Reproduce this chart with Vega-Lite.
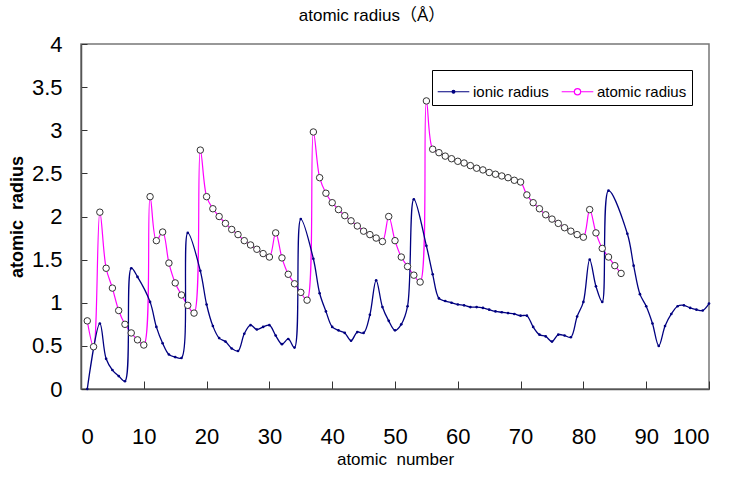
{
  "$schema": "https://vega.github.io/schema/vega-lite/v6.json",
  "width": 628,
  "height": 345,
  "autosize": {"type": "none"},
  "padding": {"left": 81, "top": 44, "right": 34, "bottom": 88},
  "background": "white",
  "title": {
    "text": "atomic radius（Å）",
    "fontSize": 17,
    "fontWeight": "normal",
    "font": "Liberation Sans, Noto Sans CJK JP, sans-serif",
    "color": "black",
    "offset": 8,
    "frame": "group",
    "anchor": "middle",
    "dx": -23
  },
  "config": {
    "view": {"stroke": "#777777", "strokeWidth": 1.5},
    "axis": {"grid": false, "domainColor": "#555555", "domainWidth": 1.5, "tickColor": "#333333", "labelColor": "black", "titleColor": "black"}
  },
  "datasets": {
    "ionic": [
      {"Z": 1, "r": 0.0}, {"Z": 3, "r": 0.76}, {"Z": 4, "r": 0.35}, {"Z": 5, "r": 0.22},
      {"Z": 6, "r": 0.15}, {"Z": 7, "r": 0.09}, {"Z": 8, "r": 1.40}, {"Z": 9, "r": 1.30},
      {"Z": 11, "r": 1.01}, {"Z": 12, "r": 0.72}, {"Z": 13, "r": 0.53}, {"Z": 14, "r": 0.40},
      {"Z": 15, "r": 0.37}, {"Z": 16, "r": 0.36}, {"Z": 17, "r": 1.81}, {"Z": 19, "r": 1.37},
      {"Z": 20, "r": 0.98}, {"Z": 21, "r": 0.73}, {"Z": 22, "r": 0.59}, {"Z": 23, "r": 0.55},
      {"Z": 24, "r": 0.47}, {"Z": 25, "r": 0.44}, {"Z": 26, "r": 0.64}, {"Z": 27, "r": 0.74},
      {"Z": 28, "r": 0.69}, {"Z": 29, "r": 0.72}, {"Z": 30, "r": 0.74}, {"Z": 31, "r": 0.62},
      {"Z": 32, "r": 0.52}, {"Z": 33, "r": 0.58}, {"Z": 34, "r": 0.48}, {"Z": 35, "r": 1.97},
      {"Z": 37, "r": 1.51}, {"Z": 38, "r": 1.11}, {"Z": 39, "r": 0.90}, {"Z": 40, "r": 0.72},
      {"Z": 41, "r": 0.68}, {"Z": 42, "r": 0.65}, {"Z": 43, "r": 0.56}, {"Z": 44, "r": 0.66},
      {"Z": 45, "r": 0.65}, {"Z": 46, "r": 0.86}, {"Z": 47, "r": 1.26}, {"Z": 48, "r": 0.95},
      {"Z": 49, "r": 0.79}, {"Z": 50, "r": 0.68}, {"Z": 51, "r": 0.75}, {"Z": 52, "r": 0.96},
      {"Z": 53, "r": 2.20}, {"Z": 55, "r": 1.66}, {"Z": 56, "r": 1.33}, {"Z": 57, "r": 1.05},
      {"Z": 58, "r": 1.02}, {"Z": 59, "r": 1.00}, {"Z": 60, "r": 0.98}, {"Z": 61, "r": 0.97},
      {"Z": 62, "r": 0.95}, {"Z": 63, "r": 0.95}, {"Z": 64, "r": 0.94}, {"Z": 65, "r": 0.92},
      {"Z": 66, "r": 0.90}, {"Z": 67, "r": 0.89}, {"Z": 68, "r": 0.88}, {"Z": 69, "r": 0.87},
      {"Z": 70, "r": 0.85}, {"Z": 71, "r": 0.85}, {"Z": 72, "r": 0.72}, {"Z": 73, "r": 0.63},
      {"Z": 74, "r": 0.61}, {"Z": 75, "r": 0.55}, {"Z": 76, "r": 0.63}, {"Z": 77, "r": 0.62},
      {"Z": 78, "r": 0.60}, {"Z": 79, "r": 0.84}, {"Z": 80, "r": 1.01}, {"Z": 81, "r": 1.50},
      {"Z": 82, "r": 1.19}, {"Z": 83, "r": 1.01}, {"Z": 84, "r": 2.30}, {"Z": 87, "r": 1.80},
      {"Z": 88, "r": 1.43}, {"Z": 89, "r": 1.10}, {"Z": 90, "r": 0.96}, {"Z": 91, "r": 0.76},
      {"Z": 92, "r": 0.50}, {"Z": 93, "r": 0.73}, {"Z": 94, "r": 0.87}, {"Z": 95, "r": 0.96},
      {"Z": 96, "r": 0.97}, {"Z": 97, "r": 0.94}, {"Z": 98, "r": 0.92}, {"Z": 99, "r": 0.91},
      {"Z": 100, "r": 0.99}
    ],
    "atomic": [
      {"Z": 1, "r": 0.79}, {"Z": 2, "r": 0.49}, {"Z": 3, "r": 2.05}, {"Z": 4, "r": 1.40},
      {"Z": 5, "r": 1.17}, {"Z": 6, "r": 0.91}, {"Z": 7, "r": 0.75}, {"Z": 8, "r": 0.65},
      {"Z": 9, "r": 0.57}, {"Z": 10, "r": 0.51}, {"Z": 11, "r": 2.23}, {"Z": 12, "r": 1.72},
      {"Z": 13, "r": 1.82}, {"Z": 14, "r": 1.46}, {"Z": 15, "r": 1.23}, {"Z": 16, "r": 1.09},
      {"Z": 17, "r": 0.97}, {"Z": 18, "r": 0.88}, {"Z": 19, "r": 2.77}, {"Z": 20, "r": 2.23},
      {"Z": 21, "r": 2.09}, {"Z": 22, "r": 2.00}, {"Z": 23, "r": 1.92}, {"Z": 24, "r": 1.85},
      {"Z": 25, "r": 1.79}, {"Z": 26, "r": 1.72}, {"Z": 27, "r": 1.67}, {"Z": 28, "r": 1.62},
      {"Z": 29, "r": 1.57}, {"Z": 30, "r": 1.53}, {"Z": 31, "r": 1.81}, {"Z": 32, "r": 1.52},
      {"Z": 33, "r": 1.33}, {"Z": 34, "r": 1.22}, {"Z": 35, "r": 1.12}, {"Z": 36, "r": 1.03},
      {"Z": 37, "r": 2.98}, {"Z": 38, "r": 2.45}, {"Z": 39, "r": 2.27}, {"Z": 40, "r": 2.16},
      {"Z": 41, "r": 2.08}, {"Z": 42, "r": 2.01}, {"Z": 43, "r": 1.95}, {"Z": 44, "r": 1.89},
      {"Z": 45, "r": 1.83}, {"Z": 46, "r": 1.79}, {"Z": 47, "r": 1.75}, {"Z": 48, "r": 1.71},
      {"Z": 49, "r": 2.00}, {"Z": 50, "r": 1.72}, {"Z": 51, "r": 1.53}, {"Z": 52, "r": 1.42},
      {"Z": 53, "r": 1.32}, {"Z": 54, "r": 1.24}, {"Z": 55, "r": 3.34}, {"Z": 56, "r": 2.78},
      {"Z": 57, "r": 2.74}, {"Z": 58, "r": 2.70}, {"Z": 59, "r": 2.67}, {"Z": 60, "r": 2.64},
      {"Z": 61, "r": 2.62}, {"Z": 62, "r": 2.59}, {"Z": 63, "r": 2.56}, {"Z": 64, "r": 2.54},
      {"Z": 65, "r": 2.51}, {"Z": 66, "r": 2.49}, {"Z": 67, "r": 2.47}, {"Z": 68, "r": 2.45},
      {"Z": 69, "r": 2.42}, {"Z": 70, "r": 2.40}, {"Z": 71, "r": 2.25}, {"Z": 72, "r": 2.16},
      {"Z": 73, "r": 2.09}, {"Z": 74, "r": 2.02}, {"Z": 75, "r": 1.97}, {"Z": 76, "r": 1.92},
      {"Z": 77, "r": 1.87}, {"Z": 78, "r": 1.83}, {"Z": 79, "r": 1.79}, {"Z": 80, "r": 1.76},
      {"Z": 81, "r": 2.08}, {"Z": 82, "r": 1.81}, {"Z": 83, "r": 1.63}, {"Z": 84, "r": 1.53},
      {"Z": 85, "r": 1.43}, {"Z": 86, "r": 1.34}
    ]
  },
  "encoding": {
    "x": {
      "field": "Z",
      "type": "quantitative",
      "scale": {"domain": [0, 100], "nice": false, "zero": false},
      "axis": {
        "title": "atomic \u00a0number",
        "values": [0, 10, 20, 30, 40, 50, 60, 70, 80, 90, 100],
        "tickSize": -8,
        "labelPadding": 45,
        "labelFont": "Liberation Sans, sans-serif",
        "labelFontSize": 22,
        "titleFont": "Liberation Sans, sans-serif",
        "titleFontSize": 17,
        "titleFontWeight": "normal",
        "titlePadding": 4
      }
    },
    "y": {
      "field": "r",
      "type": "quantitative",
      "scale": {"domain": [0, 4], "nice": false},
      "axis": {
        "title": "atomic \u00a0radius",
        "values": [0, 0.5, 1, 1.5, 2, 2.5, 3, 3.5, 4],
        "format": "~g",
        "tickSize": -6,
        "labelPadding": 25,
        "labelFont": "Liberation Sans, sans-serif",
        "labelFontSize": 22,
        "titleFont": "Liberation Sans, sans-serif",
        "titleFontSize": 18,
        "titleFontWeight": "bold",
        "titlePadding": 5
      }
    }
  },
  "layer": [
    {
      "data": {"name": "atomic"},
      "mark": {"type": "line", "interpolate": "catmull-rom", "strokeWidth": 1.2, "clip": true},
      "encoding": {
        "color": {
          "datum": "atomic radius",
          "type": "nominal",
          "scale": {"domain": ["ionic radius", "atomic radius"], "range": ["#000080", "#FF00FF"]},
          "legend": {
            "title": null,
            "orient": "none",
            "legendX": 351,
            "legendY": 26,
            "direction": "horizontal",
            "strokeColor": "black",
            "fillColor": "white",
            "padding": 5,
            "columnPadding": 10,
            "symbolSize": 1000,
            "symbolStrokeWidth": 1.2,
            "labelFont": "Liberation Sans, sans-serif",
            "labelFontSize": 15,
            "labelColor": "black",
            "labelOffset": 3,
            "encode": {
              "symbols": {
                "update": {
                  "shape": {"signal": "datum.value === 'ionic radius' ? 'M-1,0L1,0M0.09,0A0.09,0.09,0,1,1,-0.09,0A0.09,0.09,0,1,1,0.09,0' : 'M-1,0L-0.2,0M0.2,0L1,0M0.2,0A0.2,0.2,0,1,1,-0.2,0A0.2,0.2,0,1,1,0.2,0'"},
                  "fill": {"signal": "datum.value === 'ionic radius' ? '#000080' : 'white'"},
                  "strokeWidth": {"value": 1.2}
                }
              }
            }
          }
        }
      }
    },
    {
      "data": {"name": "ionic"},
      "mark": {"type": "line", "interpolate": "catmull-rom", "strokeWidth": 1.3, "clip": true},
      "encoding": {
        "color": {"datum": "ionic radius", "type": "nominal"}
      }
    },
    {
      "data": {"name": "ionic"},
      "mark": {"type": "point", "shape": "circle", "filled": true, "size": 7, "color": "#000080", "opacity": 1}
    },
    {
      "data": {"name": "atomic"},
      "mark": {"type": "point", "shape": "circle", "filled": true, "size": 42, "fill": "white", "stroke": "#333333", "strokeWidth": 1, "opacity": 1}
    }
  ]
}
